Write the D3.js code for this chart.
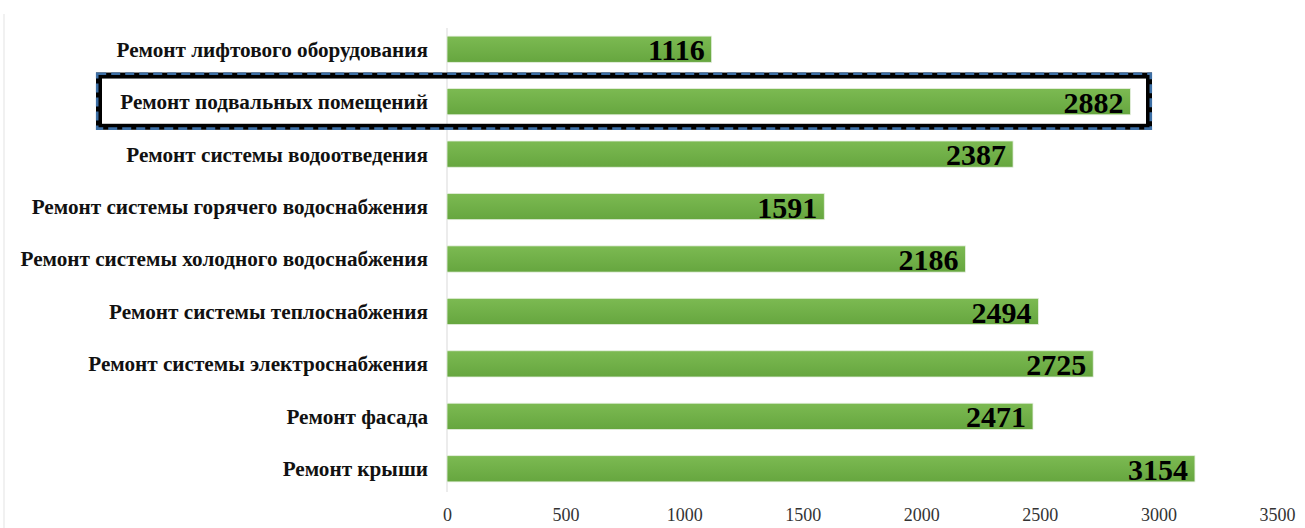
<!DOCTYPE html>
<html><head><meta charset="utf-8">
<script src="https://cdn.jsdelivr.net/npm/d3@7"></script>
<style>body{margin:0;background:#fff}svg{display:block}</style>
</head><body>
<script>
const categories = [
  "Ремонт лифтового оборудования",
  "Ремонт подвальных помещений",
  "Ремонт системы водоотведения",
  "Ремонт системы горячего водоснабжения",
  "Ремонт системы холодного водоснабжения",
  "Ремонт системы теплоснабжения",
  "Ремонт системы электроснабжения",
  "Ремонт фасада",
  "Ремонт крыши"
];
const values = [1116, 2882, 2387, 1591, 2186, 2494, 2725, 2471, 3154];
const ticks = [0, 500, 1000, 1500, 2000, 2500, 3000, 3500];
const highlighted = "Ремонт подвальных помещений";

const W = 1305, H = 528;
const svg = d3.select("body").append("svg").attr("width", W).attr("height", H);
const defs = svg.append("defs");
const g = defs.append("linearGradient").attr("id","bar").attr("x1",0).attr("y1",0).attr("x2",0).attr("y2",1);
g.append("stop").attr("offset","0%").attr("stop-color","#7cba52");
g.append("stop").attr("offset","100%").attr("stop-color","#66a63f");

const x = d3.scaleLinear().domain([0, 3500]).range([447, 1277]);
const y = d3.scaleBand().domain(categories).range([23, 495]).paddingInner(0.5).paddingOuter(0.25);

// faint page edge
svg.append("line").attr("x1",4).attr("x2",4).attr("y1",14).attr("y2",H).attr("stroke","#ececec").attr("stroke-width",1.5);

// axis line
svg.append("line").attr("x1",x(0)).attr("x2",x(0)).attr("y1",28).attr("y2",492).attr("stroke","#d9d9d9").attr("stroke-width",1);

svg.selectAll("rect.bar").data(categories).join("rect").attr("class","bar")
  .attr("x", x(0)).attr("y", d => y(d)).attr("width", (d,i) => x(values[i]) - x(0))
  .attr("height", y.bandwidth()).attr("fill","url(#bar)")
  .attr("stroke","#e6efe0").attr("stroke-width",0.8);

svg.selectAll("text.cat").data(categories).join("text").attr("class","cat")
  .attr("x", 428).attr("y", d => y(d) + y.bandwidth()/2).attr("dy","0.35em")
  .attr("text-anchor","end").attr("font-family","Liberation Serif").attr("font-weight","bold")
  .attr("font-size", 21.2).attr("fill","#111").text(d => d);

svg.selectAll("text.val").data(categories).join("text").attr("class","val")
  .attr("x", (d,i) => x(values[i]) - 7).attr("y", d => y(d) + y.bandwidth()/2).attr("dy","0.37em")
  .attr("text-anchor","end").attr("font-family","Liberation Serif").attr("font-weight","bold")
  .attr("font-size", 30).attr("fill","#000").text((d,i) => values[i]);

const axis = d3.axisBottom(x).tickValues(ticks).tickSize(0).tickPadding(0).tickFormat(d3.format("d"));
const ax = svg.append("g").attr("transform","translate(0,508)").call(axis);
ax.select(".domain").remove();
ax.selectAll("text").attr("font-family","Liberation Serif").attr("font-size",18).attr("fill","#333").attr("dy","0.71em");

// highlight frame
const hy = y(highlighted), hb = y.bandwidth();
const fx0 = 99, fx1 = 1149, fy0 = hy - 13, fy1 = hy + hb + 12;
svg.append("rect").attr("x",fx0).attr("y",fy0).attr("width",fx1-fx0).attr("height",fy1-fy0)
  .attr("fill","none").attr("stroke","#000").attr("stroke-width",6);
svg.append("rect").attr("x",fx0-1.8).attr("y",fy0-1.8).attr("width",fx1-fx0+3.6).attr("height",fy1-fy0+3.6)
  .attr("fill","none").attr("stroke","#3d6fa5").attr("stroke-width",2.6).attr("stroke-dasharray","9,5");
</script>
</body></html>
